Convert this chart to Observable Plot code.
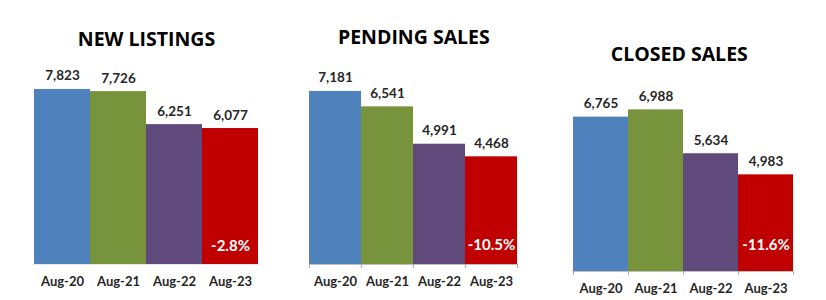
<!DOCTYPE html>
<html><head><meta charset="utf-8">
<script src="https://cdn.jsdelivr.net/npm/d3@7"></script>
<script src="https://cdn.jsdelivr.net/npm/@observablehq/plot@0.6"></script>
<style>
body{margin:0;background:#fff}
#wrap{position:relative;width:826px;height:300px}
#wrap svg{position:absolute;top:0}
</style></head><body><div id="wrap"></div>
<script>
const periods = ["Aug-20", "Aug-21", "Aug-22", "Aug-23"];
const titles = ["NEW LISTINGS", "PENDING SALES", "CLOSED SALES"];
const newListings = [7823, 7726, 6251, 6077];
const pendingSales = [7181, 6541, 4991, 4468];
const closedSales = [6765, 6988, 5634, 4983];
const changes = ["-2.8%", "-10.5%", "-11.6%"];
const axisMin = [0, 0, 2000];
const axisMax = [8000, 8000, 8000];
const colors = ["#4F81BD", "#77933C", "#604A7B", "#C00000"];

const series = [newListings, pendingSales, closedSales];
const layout = [
  {left: 0, width: 280, mL: 33, mR: 21, mT: 85, mB: 36, titleDy: -39.3, titleDx: 0, pctDy: -14, ticks: false},
  {left: 280, width: 270, mL: 29, mR: 32.3, mT: 71.2, mB: 36, titleDy: -27.2, titleDx: 0, pctDy: -15, ticks: true},
  {left: 550, width: 276, mL: 22.3, mR: 32.7, mT: 76.6, mB: 29, titleDy: -16.6, titleDx: -4, pctDy: -22, ticks: true}
];
const FONT = "Lato, sans-serif";
const TITLE_FONT = "'Open Sans', Lato, sans-serif";
const wrap = document.getElementById("wrap");

series.forEach((vals, i) => {
  const L = layout[i];
  const data = periods.map((p, j) => ({period: p, value: vals[j]}));
  const bw = (L.width - L.mL - L.mR) / periods.length;
  const lo = axisMin[i];
  const marks = [
    Plot.barY(data, {x: "period", y1: () => lo, y2: "value", fill: "period"}),
    Plot.ruleY([lo], {stroke: L.ticks ? "#bfbfbf" : "#e8e8e8"}),
    Plot.text(data, {x: "period", y: "value", text: d => d3.format(",")(d.value), lineAnchor: "bottom", dy: -9, fontSize: 13.5, fontWeight: "bold", fill: "#262626"}),
    Plot.text(periods, {x: d => d, y: () => lo, text: d => d, lineAnchor: "bottom", dy: 21.5, fontSize: 13, fontWeight: "bold", fill: "#262626"}),
    Plot.text([changes[i]], {x: () => periods[periods.length - 1], y: () => lo, text: d => d, lineAnchor: "bottom", dy: L.pctDy, fontSize: 15, fontWeight: "bold", fill: "white"}),
    Plot.text([titles[i]], {frameAnchor: "top", text: d => d, lineAnchor: "bottom", dy: L.titleDy, dx: L.titleDx, fontSize: 19.5, fontWeight: "bold", fill: "black", fontFamily: TITLE_FONT})
  ];
  if (L.ticks) {
    marks.push(Plot.axisX({tickSize: 4, tickFormat: () => "", label: null, dx: -bw / 2, stroke: "#a6a6a6"}));
    marks.push(Plot.axisX({ticks: [periods[periods.length - 1]], tickSize: 4, tickFormat: () => "", label: null, dx: bw / 2, stroke: "#a6a6a6"}));
  } else {
    marks.push(Plot.axisX({tickSize: 0, tickFormat: () => "", label: null}));
  }
  const chart = Plot.plot({
    width: L.width,
    height: 300,
    marginLeft: L.mL,
    marginRight: L.mR,
    marginTop: L.mT,
    marginBottom: L.mB,
    style: `font-family: ${FONT}; overflow: visible; background: transparent;`,
    x: {domain: periods, padding: 0, axis: null, label: null},
    y: {domain: [lo, axisMax[i]], axis: null},
    color: {domain: periods, range: colors},
    marks
  });
  chart.style.left = L.left + "px";
  wrap.appendChild(chart);
});
</script>
</body></html>
